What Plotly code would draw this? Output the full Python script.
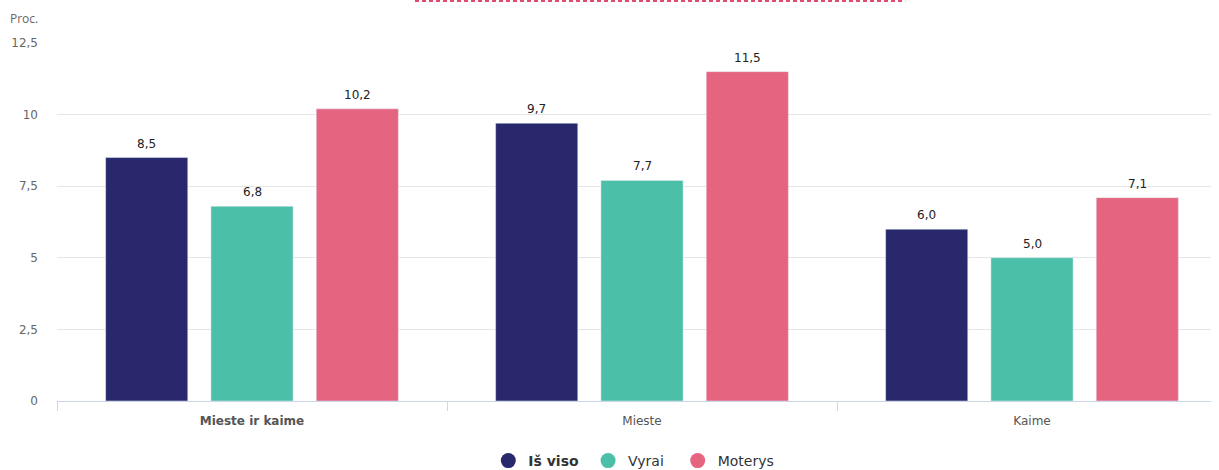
import plotly.graph_objects as go

categories = ["Mieste ir kaime", "Mieste", "Kaime"]
tick_labels = ["<b>Mieste ir kaime</b>", "Mieste", "Kaime"]
series_names = ["Iš viso", "Vyrai", "Moterys"]
legend_labels = ["<b>Iš viso</b>\u00a0", "Vyrai\u00a0\u00a0", "Moterys"]
total = [8.5, 9.7, 6.0]
men = [6.8, 7.7, 5.0]
women = [10.2, 11.5, 7.1]
colors = ["#29286d", "#4cbfa8", "#e56480"]
y_ticks = [0, 2.5, 5, 7.5, 10, 12.5]

W, H = 1219, 470
ML, MR, MT, MB = 49, 0, 43, 69
BARGAP, GROUPGAP = 0.19, 0.22

fig = go.Figure()
for vals, name, col in zip([total, men, women], series_names, colors):
    fig.add_trace(go.Bar(
        x=categories, y=vals, name=name, marker_color=col, showlegend=False,
        hoverinfo="skip",
    ))
for lab, col in zip(legend_labels, colors):
    fig.add_trace(go.Scatter(
        x=[categories[0]], y=[None], mode="markers", name=lab,
        marker=dict(symbol="circle", size=15, color=col), showlegend=True,
    ))

# value labels above bars
cat_px = (W - ML - MR) / len(categories)
slot_px = cat_px * (1 - BARGAP) / 3
for si, vals in enumerate([total, men, women]):
    for c, v in zip(categories, vals):
        fig.add_annotation(
            x=c, y=v, xref="x", yref="y", text=f"{v:.1f}".replace(".", ","),
            showarrow=False, xanchor="center", yanchor="bottom",
            xshift=(si - 1) * slot_px, yshift=5,
            font=dict(family="DejaVu Sans", size=12, color="#222222"),
        )

plot_h = H - MT - MB
fig.add_shape(type="line", xref="paper", yref="paper",
              x0=0.306, x1=0.725, y0=1 + 42 / plot_h, y1=1 + 42 / plot_h,
              line=dict(color="#e04a6c", width=2, dash="4px,3px"))

fig.update_layout(
    width=W, height=H,
    margin=dict(l=ML, r=MR, t=MT, b=MB, autoexpand=False),
    plot_bgcolor="white", paper_bgcolor="white",
    separators=", ",
    barmode="group", bargap=BARGAP, bargroupgap=GROUPGAP,
    font=dict(family="DejaVu Sans", size=12, color="#666666"),
    legend=dict(orientation="h", x=0.493, xanchor="center", y=-60 / plot_h, yanchor="middle",
                font=dict(family="DejaVu Sans", size=14, color="#333333"),
                itemsizing="trace", tracegroupgap=0),
    xaxis=dict(tickmode="array", tickvals=categories, ticktext=tick_labels,
               tickson="boundaries", ticks="outside", ticklen=9, tickcolor="#ccd6eb",
               showline=True, linecolor="#ccd6eb", linewidth=1, automargin=False,
               ticklabelstandoff=9,
               tickfont=dict(family="DejaVu Sans", size=12, color="#555555"),
               showgrid=False),
    yaxis=dict(range=[0, 12.5], tickvals=y_ticks, showgrid=True, gridcolor="#e6e6e6",
               zeroline=False, ticks="", ticklen=0, automargin=False,
               ticklabelstandoff=18,
               tickfont=dict(family="DejaVu Sans", size=12, color="#666666")),
)
fig.add_annotation(text="Proc.", xref="paper", yref="paper", x=-0.042, y=1 + 25 / plot_h,
                   xanchor="left", yanchor="middle", showarrow=False,
                   font=dict(family="Open Sans", size=12, color="#666666"))

fig.write_html("out.html", post_script="document.body.style.marginTop='0px';")
